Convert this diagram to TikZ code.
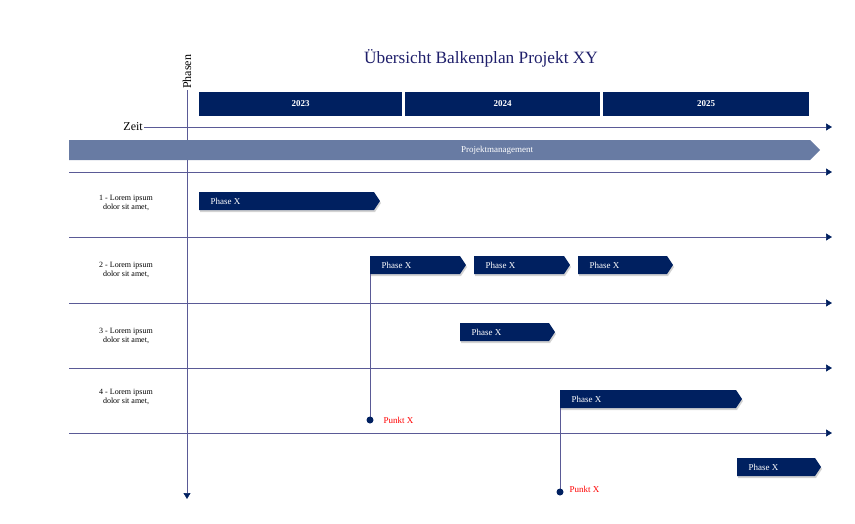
\documentclass[tikz,border=0pt]{standalone}
\usepackage{fontspec}
\setmainfont{Liberation Serif}
\usetikzlibrary{shadows,arrows.meta}
\definecolor{navy}{HTML}{002060}
\definecolor{pm}{HTML}{687BA3}
\definecolor{ln}{HTML}{5A5A96}
\definecolor{ttl}{HTML}{1F1F6B}
\tikzset{x=1pt,y=-1pt,
 tl/.style={draw=ln,line width=0.6pt,-{Triangle[length=6pt,width=7pt,fill=navy,color=navy]}},
 yr/.style={fill=navy,text=white,font=\bfseries\small},
 lbl/.style={align=center,font=\footnotesize,anchor=center},
 pt/.style={text=red,font=\small,anchor=west}}
\newcommand{\phasebox}[5]{% name, x1, x2, y1, y2
 \path[fill=navy,drop shadow={shadow xshift=1pt,shadow yshift=-2pt,opacity=0.35}] (#2,#4) -- (#3-6,#4) -- (#3,{(#4+#5)/2}) -- (#3-6,#5) -- (#2,#5) -- cycle;
 \node[text=white,font=\small,anchor=west] (#1) at (#2+8,{(#4+#5)/2}) {Phase X};}
\begin{document}
\begin{tikzpicture}
\useasboundingbox (0,0) rectangle (855,523);
\node[text=ttl,font=\LARGE] (title) at (481,58) {Übersicht Balkenplan Projekt XY};
\node[rotate=90,anchor=west,font=\large,inner sep=1pt] (ph) at (187,90) {Phasen};
\coordinate (vt) at (187,90); \coordinate (vb) at (187,499);
\draw[tl] (vt) -- (vb);
\node[yr,minimum width=203,minimum height=24,inner sep=0] (y1) at (300.5,104) {2023};
\node[yr,minimum width=195,minimum height=24,inner sep=0] (y2) at (502.5,104) {2024};
\node[yr,minimum width=206,minimum height=24,inner sep=0] (y3) at (706,104) {2025};
\node[font=\large,anchor=east,inner sep=1pt] (zeit) at (144,127) {Zeit};
\coordinate (ze) at (832,127);
\draw[tl] (zeit) -- (ze);
\path[fill=pm] (69,140) -- (810,140) -- (820,150) -- (810,160) -- (69,160) -- cycle;
\node[text=white,font=\small] (pmt) at (497,150) {Projektmanagement};
\foreach \yy/\n in {172/a,237/b,303/c,368/d,433/e}{
 \coordinate (l\n) at (69,\yy); \coordinate (r\n) at (832,\yy);
 \draw[tl] (l\n) -- (r\n);}
\node[lbl] (r1) at (126,203) {1 - Lorem ipsum\\dolor sit amet,};
\node[lbl] (r2) at (126,270) {2 - Lorem ipsum\\dolor sit amet,};
\node[lbl] (r3) at (126,336) {3 - Lorem ipsum\\dolor sit amet,};
\node[lbl] (r4) at (126,397) {4 - Lorem ipsum\\dolor sit amet,};
\phasebox{p1}{199}{380}{192}{210}
\phasebox{p2}{370}{466}{256}{274}
\phasebox{p3}{474}{570}{256}{274}
\phasebox{p4}{578}{673}{256}{274}
\phasebox{p5}{460}{555}{323}{341}
\phasebox{p6}{560}{742}{390}{408}
\phasebox{p7}{737}{821}{458}{476}
\coordinate (a1) at (370,274); \coordinate (d1) at (370,420);
\draw[ln,line width=0.6pt] (a1) -- (d1);
\fill[navy] (d1) circle (3.5);
\node[pt] (k1) at (380,420) {Punkt X};
\coordinate (a2) at (560,408); \coordinate (d2) at (560,492);
\draw[ln,line width=0.6pt] (a2) -- (d2);
\fill[navy] (d2) circle (3.5);
\node[pt] (k2) at (566,489) {Punkt X};
\end{tikzpicture}
\end{document}
